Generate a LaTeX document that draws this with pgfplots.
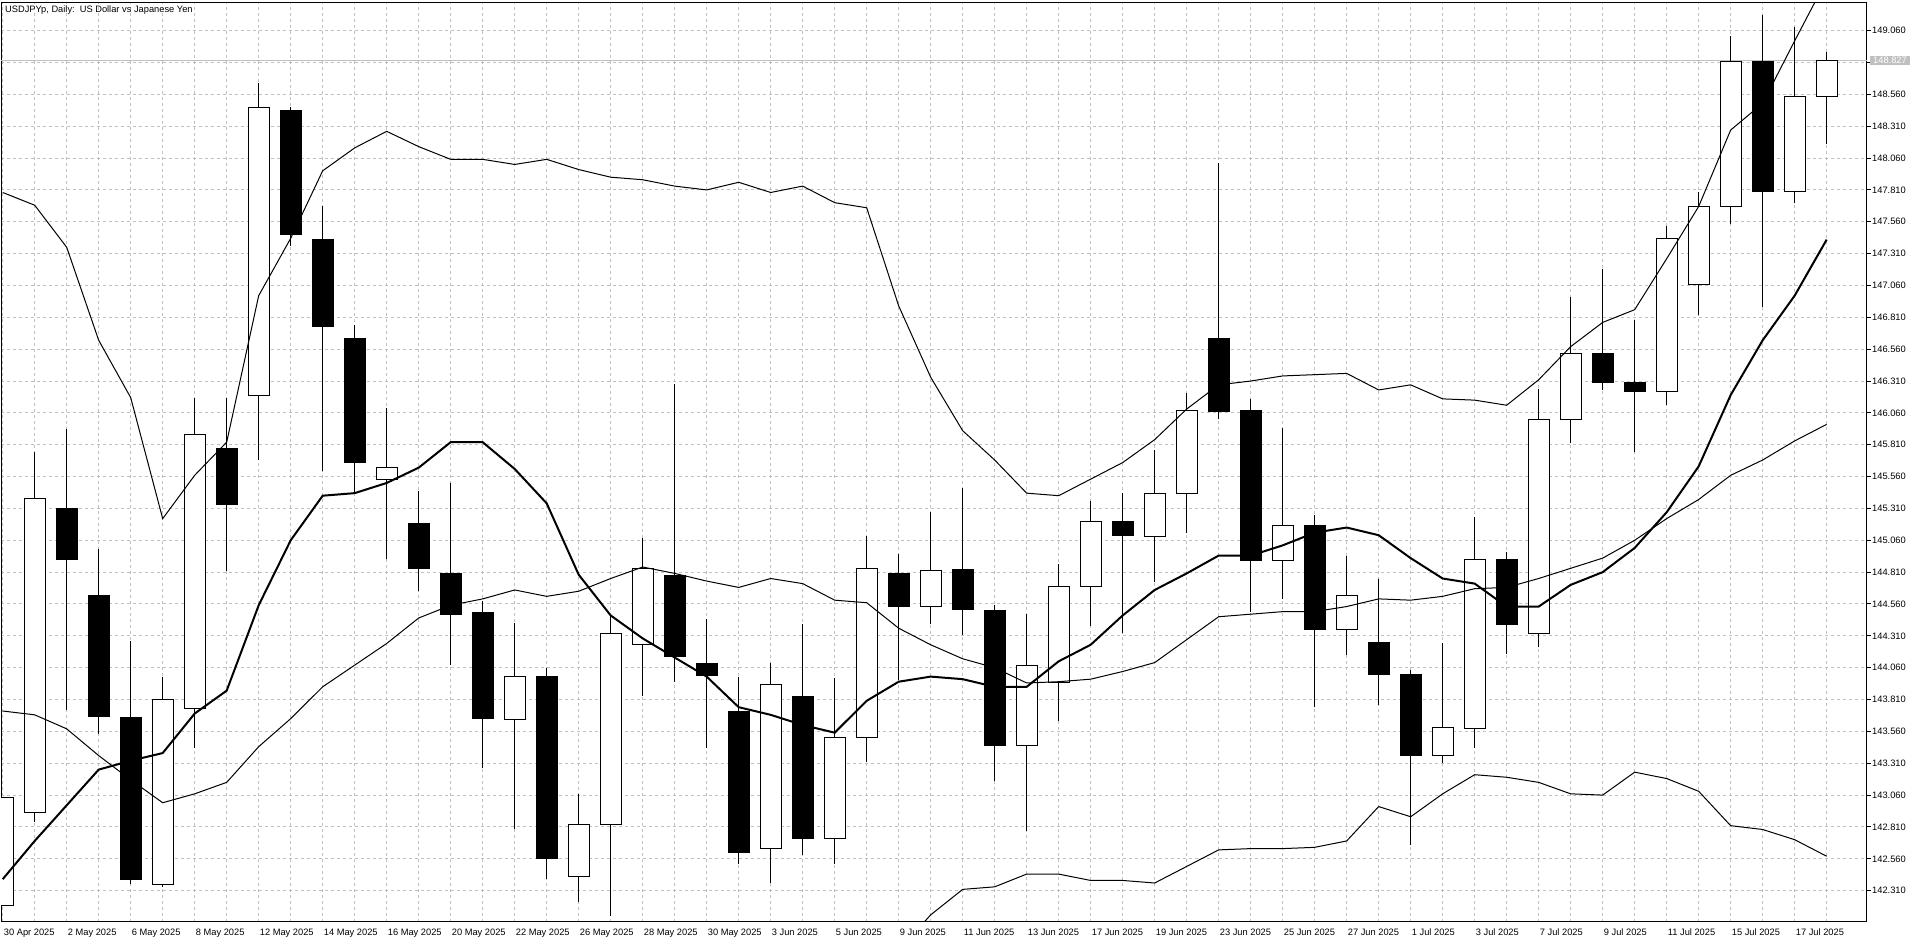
\documentclass[border=0pt]{standalone}
\usepackage{pgfplots}
\usepackage{pgfplotstable}
\usepackage{fontspec}
\setmainfont{Liberation Sans}
\pgfplotsset{compat=1.18}
\definecolor{gridgray}{RGB}{192,192,192}

% daily candles, bar index i = trading day since 30 Apr 2025
\pgfplotstableread{
i o h l c
0 142.19 143.04 142.19 143.04
1 142.92 145.75 142.85 145.39
2 145.31 145.93 143.73 144.91
3 144.63 144.99 143.54 143.68
4 143.67 144.27 142.36 142.40
5 142.36 143.99 142.34 143.81
6 143.74 146.18 143.43 145.89
7 145.78 146.18 144.82 145.34
8 146.20 148.65 145.69 148.46
9 148.43 148.46 147.37 147.46
10 147.42 147.68 145.60 146.74
11 146.64 146.75 145.43 145.67
12 145.54 146.10 144.91 145.63
13 145.19 145.45 144.66 144.84
14 144.80 145.51 144.08 144.48
15 144.49 144.58 143.27 143.66
16 143.65 144.41 142.79 143.99
17 143.99 144.06 142.40 142.56
18 142.42 143.07 142.22 142.83
19 142.83 144.48 142.11 144.33
20 144.24 145.08 143.84 144.84
21 144.78 146.29 143.95 144.15
22 144.09 144.44 143.43 144.00
23 143.72 143.99 142.52 142.61
24 142.64 144.10 142.37 143.93
25 143.83 144.40 142.59 142.72
26 142.72 143.98 142.52 143.51
27 143.51 145.09 143.32 144.84
28 144.80 144.95 143.96 144.54
29 144.54 145.28 144.40 144.82
30 144.83 145.47 144.32 144.52
31 144.51 144.55 143.17 143.45
32 143.45 144.48 142.78 144.08
33 143.94 144.87 143.64 144.70
34 144.70 145.37 144.39 145.21
35 145.21 145.43 144.33 145.10
36 145.09 145.77 144.73 145.43
37 145.43 146.22 145.12 146.08
38 146.64 148.02 146.01 146.07
39 146.08 146.17 144.50 144.90
40 144.90 145.94 144.60 145.18
41 145.18 145.26 143.75 144.36
42 144.36 144.94 144.16 144.63
43 144.26 144.76 143.77 144.01
44 144.01 144.04 142.67 143.37
45 143.37 144.25 143.31 143.59
46 143.58 145.24 143.43 144.91
47 144.91 144.97 144.17 144.40
48 144.33 146.25 144.22 146.01
49 146.01 146.97 145.82 146.53
50 146.53 147.19 146.24 146.30
51 146.30 146.79 145.75 146.23
52 146.23 147.53 146.12 147.43
53 147.07 147.79 146.83 147.68
54 147.68 149.02 147.54 148.82
55 148.82 149.18 146.89 147.80
56 147.80 149.09 147.71 148.54
57 148.54 148.89 148.17 148.827
}\ohlc

% moving average (bold) and bollinger bands
\pgfplotstableread{
i ma up mid lo
0 142.40 147.79 143.72 nan
1 142.70 147.69 143.69 nan
2 142.98 147.36 143.58 nan
3 143.26 146.63 143.37 nan
4 143.33 146.18 143.18 nan
5 143.39 145.23 143.00 nan
6 143.70 145.57 143.07 nan
7 143.88 145.83 143.16 nan
8 144.55 146.98 143.44 nan
9 145.06 147.43 143.66 nan
10 145.41 147.96 143.91 nan
11 145.43 148.14 144.08 nan
12 145.51 148.27 144.25 nan
13 145.63 148.15 144.45 nan
14 145.83 148.05 144.55 nan
15 145.83 148.05 144.60 nan
16 145.62 148.01 144.67 nan
17 145.35 148.05 144.62 nan
18 144.79 147.97 144.66 nan
19 144.47 147.91 144.76 nan
20 144.29 147.89 144.85 nan
21 144.14 147.84 144.80 nan
22 143.99 147.81 144.74 nan
23 143.75 147.87 144.69 nan
24 143.69 147.79 144.76 nan
25 143.61 147.84 144.72 nan
26 143.55 147.71 144.59 nan
27 143.80 147.67 144.57 nan
28 143.95 146.90 144.37 141.84
29 143.99 146.34 144.24 142.12
30 143.97 145.92 144.13 142.32
31 143.91 145.69 144.06 142.34
32 143.91 145.43 143.94 142.44
33 144.11 145.41 143.95 142.44
34 144.24 145.54 143.97 142.39
35 144.47 145.67 144.03 142.39
36 144.67 145.85 144.10 142.37
37 144.80 146.09 144.28 142.50
38 144.94 146.28 144.46 142.63
39 144.94 146.31 144.48 142.64
40 145.02 146.35 144.50 142.64
41 145.12 146.36 144.50 142.65
42 145.16 146.37 144.54 142.70
43 145.10 146.24 144.60 142.97
44 144.92 146.28 144.59 142.89
45 144.76 146.17 144.62 143.07
46 144.72 146.16 144.68 143.22
47 144.54 146.12 144.69 143.20
48 144.54 146.32 144.76 143.16
49 144.71 146.58 144.84 143.07
50 144.81 146.77 144.92 143.06
51 145.00 146.87 145.06 143.24
52 145.28 147.27 145.23 143.19
53 145.64 147.68 145.38 143.09
54 146.20 148.28 145.57 142.82
55 146.63 148.49 145.69 142.79
56 146.98 148.98 145.84 142.71
57 147.42 149.46 145.97 142.58
}\ind

\begin{document}
\begin{tikzpicture}[font=\fontsize{9.3}{11}\selectfont]
\begin{axis}[
    at={(0,0)}, anchor=south west,
    scale only axis, width=1866pt, height=919.6pt,
    xmin=-0.053, xmax=58.26,
    ymin=142.064, ymax=149.282,
    clip mode=individual,
    axis line style={black, line width=1pt},
    grid=major,
    major grid style={gridgray, line width=1pt, dash pattern=on 3pt off 3pt},
    xtick={0,...,57},
    xticklabels={30 Apr 2025,,2 May 2025,,6 May 2025,,8 May 2025,,12 May 2025,,14 May 2025,,16 May 2025,,20 May 2025,,22 May 2025,,26 May 2025,,28 May 2025,,30 May 2025,,3 Jun 2025,,5 Jun 2025,,9 Jun 2025,,11 Jun 2025,,13 Jun 2025,,17 Jun 2025,,19 Jun 2025,,23 Jun 2025,,25 Jun 2025,,27 Jun 2025,,1 Jul 2025,,3 Jul 2025,,7 Jul 2025,,9 Jul 2025,,11 Jul 2025,,15 Jul 2025,,17 Jul 2025,},
    ytick={142.31,142.56,142.81,143.06,143.31,143.56,143.81,144.06,144.31,144.56,144.81,145.06,145.31,145.56,145.81,146.06,146.31,146.56,146.81,147.06,147.31,147.56,147.81,148.06,148.31,148.56,148.81,149.06},
    yticklabels={142.310,142.560,142.810,143.060,143.310,143.560,143.810,144.060,144.310,144.560,144.810,145.060,145.310,145.560,145.810,146.060,146.310,146.560,146.810,147.060,147.310,147.560,147.810,148.060,148.310,148.560,,149.060},
    xtick style={draw=none},
    ytick style={black, line width=1pt},
    tick align=outside, major tick length=4pt,
    ytick pos=right, yticklabel pos=right,
    every tick label/.append style={font=\fontsize{9.3}{11}\selectfont},
    x tick label style={anchor=north west, inner sep=0pt, xshift=1pt, yshift=-3pt},
    y tick label style={anchor=west, inner sep=0pt, xshift=1pt},
]
% current price line
\addplot[gridgray, line width=1pt, forget plot] coordinates {(-0.1,148.827) (58.3,148.827)};

% candles: wick, then body
\pgfplotsforeachungrouped \r in {0,...,57}{%
  \pgfplotstablegetelem{\r}{o}\of\ohlc \let\vo=\pgfplotsretval
  \pgfplotstablegetelem{\r}{h}\of\ohlc \let\vh=\pgfplotsretval
  \pgfplotstablegetelem{\r}{l}\of\ohlc \let\vl=\pgfplotsretval
  \pgfplotstablegetelem{\r}{c}\of\ohlc \let\vc=\pgfplotsretval
  \pgfmathsetmacro\xa{\r-0.333}%
  \pgfmathsetmacro\xb{\r+0.333}%
  \pgfmathtruncatemacro\dn{\vc<\vo ? 1 : 0}%
  \ifnum\dn=1 \def\fc{black}\else \def\fc{white}\fi
  \edef\cmd{%
    \noexpand\addplot[black, line width=1pt, forget plot] coordinates {(\r,\vl) (\r,\vh)};
    \noexpand\addplot[draw=black, fill=\fc, line width=1pt, line join=miter, forget plot] coordinates {(\xa,\vo) (\xb,\vo) (\xb,\vc) (\xa,\vc)} --cycle;
  }%
  \cmd
}

\addplot[black, line width=1pt] table[x=i, y=up] {\ind};
\addplot[black, line width=1pt] table[x=i, y=mid] {\ind};
\addplot[black, line width=1pt] table[x=i, y=lo] {\ind};
\addplot[black, line width=2pt] table[x=i, y=ma] {\ind};

\node[anchor=north west, inner sep=0pt, xshift=4pt, yshift=-3pt] at (rel axis cs:0,1)
  {USDJPYp, Daily:\hspace{5pt}US Dollar vs Japanese Yen};
\node[anchor=west, fill=gridgray, text=white, inner xsep=3pt, inner ysep=1pt, xshift=3pt]
  at (axis cs:58.26,148.827) {148.827};
\end{axis}
\pgfresetboundingbox
\path[use as bounding box] (-1pt,-22pt) rectangle (1919pt,922pt);
\end{tikzpicture}
\end{document}
